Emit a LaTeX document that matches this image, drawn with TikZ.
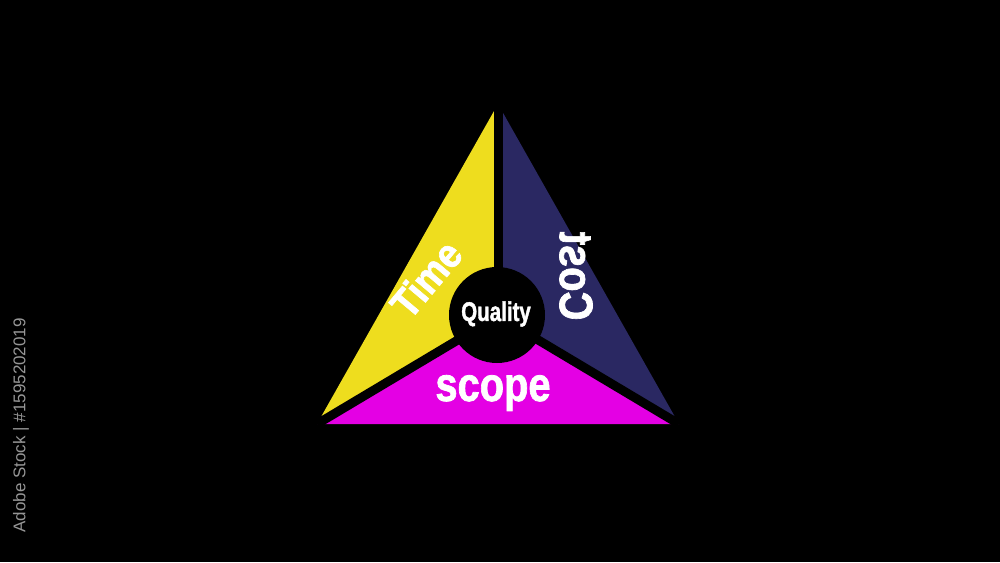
\documentclass[tikz,border=0pt]{standalone}
\usepackage{fontspec}
\setmainfont{Liberation Sans}
\newfontfamily\heavyfont[BoldFeatures={FakeBold=1.6}]{Liberation Sans}
\definecolor{tyellow}{RGB}{238,221,30}
\definecolor{tnavy}{RGB}{42,40,98}
\definecolor{tmag}{RGB}{228,0,228}
\definecolor{wmark}{RGB}{150,150,150}
\tikzset{
  gapline/.style={draw=black, line width=9pt, line cap=butt},
  lbl/.style={text=white, font=\heavyfont\bfseries, inner sep=0pt},
}
\begin{document}
\begin{tikzpicture}[x=1pt,y=-1pt]
\fill[black] (0,0) rectangle (1000,562);
\useasboundingbox (0,0) rectangle (1000,562);
\coordinate (A) at (498,104);
\coordinate (B) at (317,424);
\coordinate (C) at (679,424);
\coordinate (O) at (498,316);
\fill[tyellow] (A) -- (B) -- (O) -- cycle;
\fill[tnavy] (A) -- (C) -- (O) -- cycle;
\fill[tmag] (B) -- (C) -- (O) -- cycle;
\draw[gapline] (O) -- (A);
\draw[gapline] (O) -- (B);
\draw[gapline] (O) -- (C);
\node[circle, fill=black, minimum size=96pt, inner sep=0pt] (quality) at (497,315) {};
\node[lbl] (qt) at (496,314) {\scalebox{0.76}[1]{\fontsize{27}{27}\selectfont Quality}};
\node[lbl] (scope) at (493,393) {\scalebox{0.83}[1]{\fontsize{48}{48}\selectfont scope}};
\node[lbl, rotate=50] (time) at (426,279) {\scalebox{0.9}[1]{\fontsize{41}{41}\selectfont Time}};
\node[lbl, rotate=90] (cost) at (576,276) {\scalebox{0.85}[-1]{\fontsize{47}{47}\selectfont Cost}};
\node[text=wmark, rotate=90, anchor=east, font=\fontsize{17}{17}\selectfont, inner sep=0pt] (id) at (21,318) {Adobe Stock | \#1595202019};
\end{tikzpicture}
\end{document}
